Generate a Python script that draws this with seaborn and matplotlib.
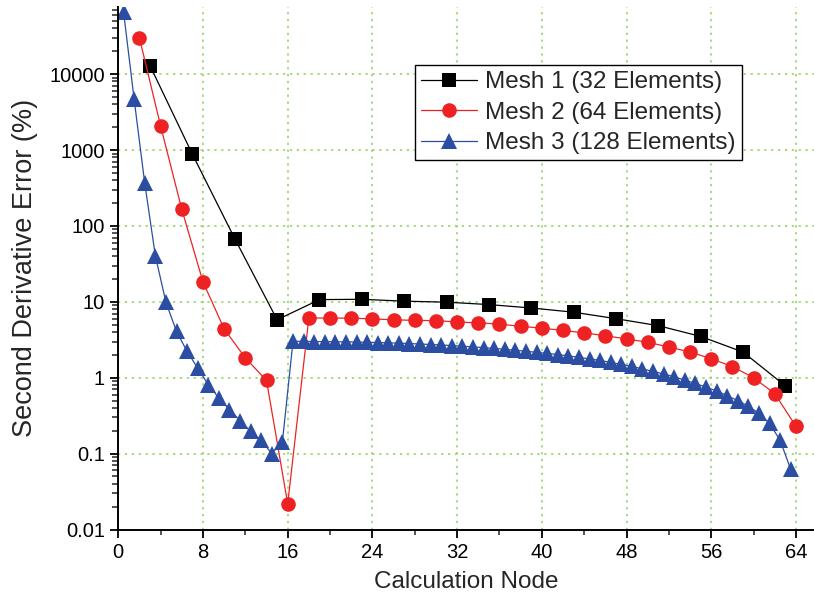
import numpy as np
import pandas as pd
import seaborn as sns
from matplotlib import pyplot as plt
from matplotlib.ticker import FixedLocator, MultipleLocator, LogLocator, NullFormatter

# data
mesh1_x = [3, 7, 11, 15, 19, 23, 27, 31, 35, 39, 43, 47, 51, 55, 59, 63]
mesh1_y = [12900, 880, 68, 5.8, 10.7, 10.8, 10.2, 9.9, 9.2, 8.3, 7.3, 6.0,
           4.85, 3.5, 2.18, 0.78]

mesh2_x = list(range(2, 65, 2))
mesh2_y = [30000, 2070, 165, 18.3, 4.4, 1.82, 0.92, 0.0218, 6.15, 6.1, 6.1,
           5.95, 5.8, 5.7, 5.65, 5.43, 5.27, 5.1, 4.75, 4.5, 4.2, 3.9, 3.58,
           3.24, 2.93, 2.54, 2.18, 1.78, 1.4, 1.0, 0.615, 0.228]

mesh3_x = [i + 0.5 for i in range(64)]
mesh3_y = [66000, 4640, 365, 40.6, 9.85, 4.08, 2.22, 1.34, 0.81, 0.54, 0.378,
           0.273, 0.196, 0.149, 0.1, 0.144,
           3.02, 3.01, 3.0, 2.99, 2.98, 2.97, 2.95, 2.93, 2.91, 2.88, 2.85,
           2.82, 2.78, 2.74, 2.70, 2.65, 2.60, 2.55, 2.49, 2.43, 2.37, 2.30,
           2.23, 2.16,
           2.09, 2.02, 1.94, 1.86, 1.77, 1.69, 1.59, 1.50, 1.41, 1.31, 1.21,
           1.12, 1.03, 0.93, 0.84, 0.75, 0.67, 0.58, 0.50, 0.42, 0.34, 0.25,
           0.15, 0.062]

labels = ["Mesh 1 (32 Elements)", "Mesh 2 (64 Elements)", "Mesh 3 (128 Elements)"]
y_ticks = [0.01, 0.1, 1, 10, 100, 1000, 10000]
y_tick_labels = ["0.01", "0.1", "1", "10", "100", "1000", "10000"]
x_ticks = [0, 8, 16, 24, 32, 40, 48, 56, 64]

sns.set_style("ticks")
plt.rcParams['font.family'] = ['Liberation Sans', 'DejaVu Sans']

fig = plt.figure(figsize=(8.14, 6.06), dpi=100)
ax = fig.add_axes([0.1453, 0.1262, 0.8547, 0.8622])

series = [
    (mesh1_x, mesh1_y, labels[0], "black", "s", 9.5),
    (mesh2_x, mesh2_y, labels[1], "#ee2222", "o", 10.5),
    (mesh3_x, mesh3_y, labels[2], "#2b4ea3", "^", 11),
]
for xs, ys, lab, col, mk, ms in series:
    df = pd.DataFrame({"x": xs, "y": ys})
    sns.lineplot(data=df, x="x", y="y", ax=ax, color=col, marker=mk,
                 markersize=ms, markeredgewidth=0, linewidth=0.9,
                 label=lab, clip_on=True)

ax.set_yscale("log")
ax.set_xlim(0, 65.7)
ax.set_ylim(0.01, 76600)

ax.xaxis.set_major_locator(FixedLocator(x_ticks))
ax.xaxis.set_minor_locator(MultipleLocator(4))
ax.yaxis.set_major_locator(FixedLocator(y_ticks))
ax.set_yticklabels(y_tick_labels)
ax.yaxis.set_minor_locator(LogLocator(base=10, subs=np.arange(2, 10)))
ax.yaxis.set_minor_formatter(NullFormatter())

ax.grid(True, which="major", color="#8fd160", linestyle=(0, (1.5, 3)), linewidth=1.1)
ax.tick_params(which="major", direction="out", length=6, width=1.3, labelsize=14.5, colors="black")
ax.tick_params(which="minor", direction="out", length=3.5, width=1.1)
ax.tick_params(axis="y", which="minor", length=4)

for s in ["top", "right"]:
    ax.spines[s].set_visible(False)
for s in ["left", "bottom"]:
    ax.spines[s].set_linewidth(1.4)
    ax.spines[s].set_color("black")

ax.set_xlabel("Calculation Node", fontsize=17.5, labelpad=7)
ax.set_ylabel("Second Derivative Error (%)", fontsize=19.5, labelpad=8)

leg = ax.legend(loc="upper left", bbox_to_anchor=(0.4265, 0.889), fontsize=17.5,
                frameon=True, fancybox=False, edgecolor="black", framealpha=1,
                handlelength=2.3, borderpad=0.25, labelspacing=0.35,
                handletextpad=0.35, borderaxespad=0)
leg.get_frame().set_linewidth(1.0)

fig.savefig("out.png", dpi=100)
